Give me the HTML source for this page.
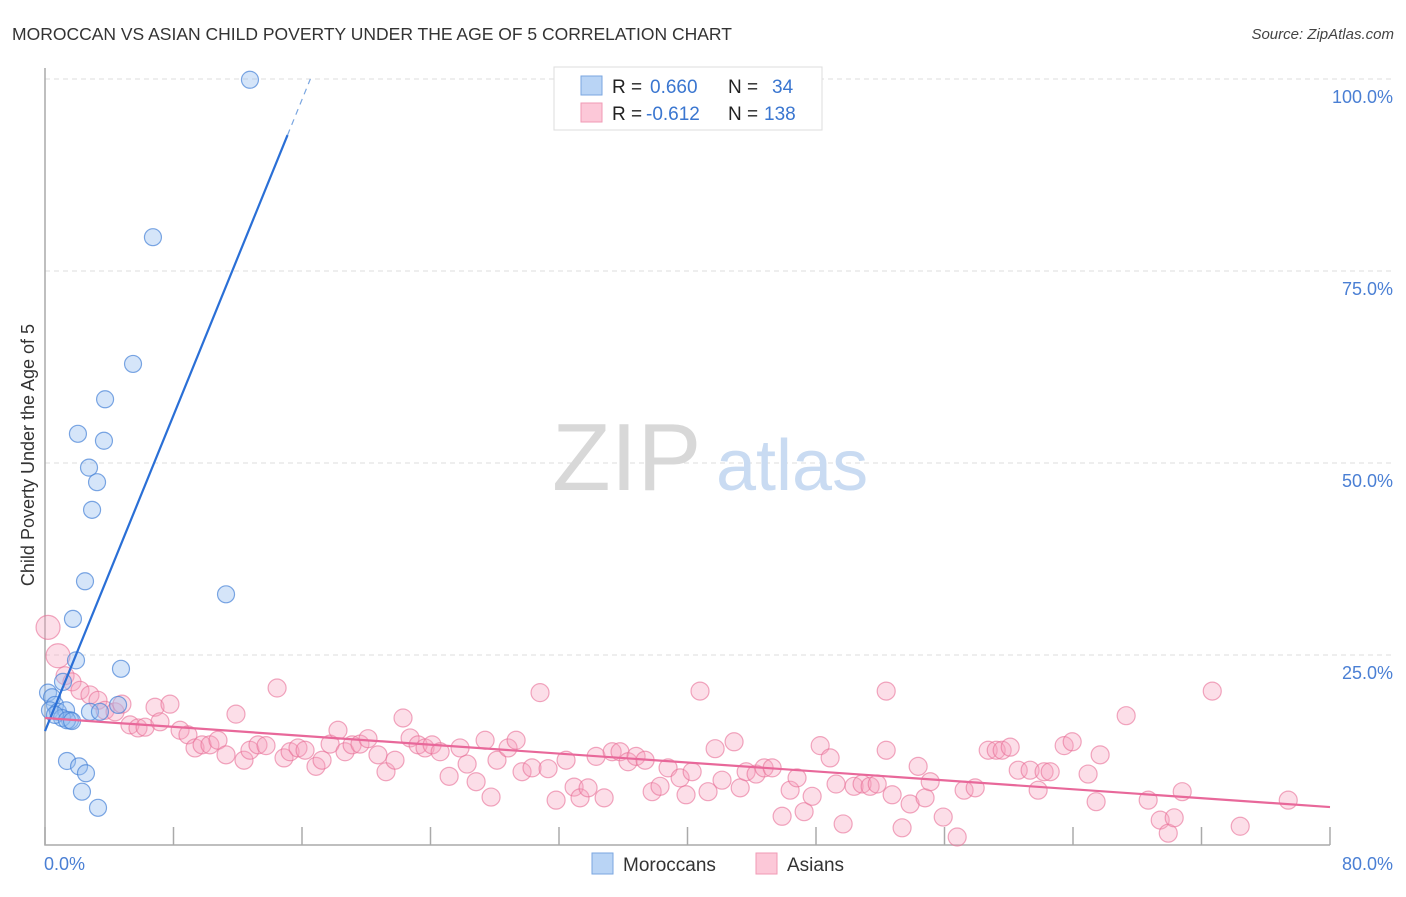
<!DOCTYPE html>
<html><head><meta charset="utf-8"><style>
body{margin:0;background:#fff;font-family:"Liberation Sans",sans-serif;}
svg text{font-family:"Liberation Sans",sans-serif;}
</style></head><body>
<svg id="chart" width="1406" height="892" viewBox="0 0 1406 892" xmlns="http://www.w3.org/2000/svg">
<text x="12" y="40" font-size="17.5" fill="#333">MOROCCAN VS ASIAN CHILD POVERTY UNDER THE AGE OF 5 CORRELATION CHART</text>
<text x="1394" y="39" font-size="15" fill="#444" text-anchor="end" font-style="italic">Source: ZipAtlas.com</text>
<g id="grid"></g>
<g>
<text x="552" y="490" font-size="96" fill="#d8d8d8" font-family="Liberation Serif,serif">ZIP</text>
<text x="716" y="490" font-size="72" fill="#c9dbf2">atlas</text>
</g>
<text transform="translate(34,455) rotate(-90)" font-size="18" fill="#333" text-anchor="middle">Child Poverty Under the Age of 5</text>
<g id="points"></g>
<g id="lines"></g>
<g>
<rect x="554" y="67" width="268" height="63" fill="#fff" stroke="#ddd"/>
<rect x="581" y="76" width="21" height="19" fill="#b9d4f5" stroke="#7aa6e0"/>
<rect x="581" y="103" width="21" height="19" fill="#fcc8d8" stroke="#f09ab5"/>
<text x="612" y="93" font-size="19" fill="#222">R =</text>
<text x="650" y="93" font-size="19" fill="#3a76d0">0.660</text>
<text x="728" y="93" font-size="19" fill="#222">N =</text>
<text x="772" y="93" font-size="19" fill="#3a76d0">34</text>
<text x="612" y="120" font-size="19" fill="#222">R =</text>
<text x="646" y="120" font-size="19" fill="#3a76d0">-0.612</text>
<text x="728" y="120" font-size="19" fill="#222">N =</text>
<text x="764" y="120" font-size="19" fill="#3a76d0">138</text>
</g>
<g>
<rect x="592" y="853" width="21" height="21" fill="#b9d4f5" stroke="#7aa6e0"/>
<text x="623" y="871" font-size="19" fill="#333">Moroccans</text>
<rect x="756" y="853" width="21" height="21" fill="#fcc8d8" stroke="#f09ab5"/>
<text x="787" y="871" font-size="19" fill="#333">Asians</text>
</g>
</svg>
<script>
const blueX=[12.76,6.72,5.48,3.74,2.05,3.67,2.74,3.24,2.93,2.49,11.27,1.74,1.93,4.73,1.12,0.19,0.44,0.62,0.31,0.81,1.31,4.55,2.80,3.42,1.56,1.06,0.62,1.37,1.68,1.37,2.12,2.55,2.30,3.30];
const blueY=[99.9,79.4,62.9,58.3,53.8,52.9,49.4,47.5,43.9,34.6,32.9,29.7,24.3,23.2,21.5,20.1,19.5,18.5,17.8,17.6,17.8,18.5,17.6,17.6,16.5,16.8,17.2,16.5,16.4,11.2,10.5,9.6,7.2,5.1];
const pinkX=[0.19,0.81,1.25,1.68,2.18,2.80,3.30,3.74,4.36,4.79,5.29,5.79,6.23,6.85,7.16,7.78,8.41,8.90,9.34,9.78,10.27,10.77,11.27,11.89,12.39,12.76,13.26,13.76,14.45,14.88,15.26,15.75,16.19,16.87,17.25,17.75,18.24,18.68,19.12,19.61,20.11,20.73,21.23,21.79,22.29,22.73,23.23,23.66,24.10,24.60,25.16,25.84,26.28,26.84,27.40,27.77,28.14,28.83,29.33,29.70,30.32,30.82,31.32,31.82,32.44,32.94,33.31,33.81,34.31,34.81,35.31,35.80,36.30,36.80,37.36,37.80,38.29,38.79,39.54,39.91,40.29,40.78,41.28,41.72,42.15,42.90,43.28,43.65,44.27,44.77,45.27,45.89,46.39,46.82,47.26,47.76,48.26,48.88,49.25,49.69,50.37,50.87,51.37,51.81,52.37,52.37,52.74,53.36,53.86,54.36,54.79,55.11,55.92,56.79,57.22,57.91,58.72,59.22,59.59,60.09,60.59,61.33,61.83,62.20,62.58,63.45,63.95,64.94,65.69,65.44,67.31,68.68,69.43,69.93,70.30,70.80,72.67,74.41,77.40];
const pinkY=[28.6,24.9,22.3,21.5,20.4,19.8,19.1,17.8,17.6,18.6,15.9,15.5,15.6,18.2,16.3,18.6,15.2,14.6,12.9,13.3,13.3,13.9,12.0,17.3,11.3,12.6,13.3,13.2,20.7,11.6,12.4,12.9,12.6,10.5,11.3,13.4,15.2,12.4,13.3,13.4,14.1,12.0,9.8,11.3,16.8,14.2,13.3,12.9,13.3,12.4,9.2,12.9,10.8,8.5,13.9,6.5,11.3,12.9,13.9,9.8,10.3,20.1,10.2,6.1,11.3,7.8,6.4,7.7,11.8,6.4,12.4,12.4,11.1,11.8,11.3,7.2,7.9,10.3,9.0,6.8,9.8,20.3,7.2,12.8,8.7,13.7,7.7,9.8,9.5,10.3,10.3,4.0,7.4,9.0,4.6,6.6,13.2,11.6,8.2,3.0,7.9,8.2,7.9,8.2,20.3,12.6,6.8,2.5,5.6,10.5,6.4,8.5,3.9,1.3,7.4,7.7,12.6,12.6,12.6,13.0,10.0,10.0,7.4,9.8,9.8,13.2,13.7,9.5,12.0,5.9,17.1,6.1,3.5,1.8,3.8,7.2,20.3,2.7,6.1];
const yTicks=[100,75,50,25];
const yTickLabels=["100.0%","75.0%","50.0%","25.0%"];
const xTicks=[0,8,16,24,32,40,48,56,64,72,80];
const blueLine=[0,15.1,15.1,92.7];
const pinkLine=[0,16.8,80,5.2];

const NS="http://www.w3.org/2000/svg";
const L=45,R=1330,T=79,B=847;
const xs=v=>L+v/80*(R-L);
const ys=v=>B-v/100*(B-T);
function mk(tag,attrs,parent){const e=document.createElementNS(NS,tag);for(const k in attrs)e.setAttribute(k,attrs[k]);parent.appendChild(e);return e;}
const grid=document.getElementById('grid');
yTicks.forEach((t,i)=>{
  const g=mk('line',{x1:L,x2:1394,y1:ys(t),y2:ys(t),stroke:'#ddd','stroke-dasharray':'5,4'},grid);
  
  
  const tx=mk('text',{x:1393,y:ys(t)+24,'font-size':18,fill:'#4a7fd4','text-anchor':'end'},grid);
  tx.textContent=yTickLabels[i];
  
  
});
const ax=mk('path',{d:`M${L} 68 V845 H${R}`,fill:'none',stroke:'#aaa','stroke-width':1.5},grid);


xTicks.forEach(t=>{
  const l=mk('line',{x1:xs(t),x2:xs(t),y1:827,y2:845,stroke:'#aaa','stroke-width':1.5},grid);
  
  
});
const xl0=mk('text',{x:44,y:870,'font-size':18,fill:'#4a7fd4'},grid);xl0.textContent='0.0%';


const xl1=mk('text',{x:1393,y:870,'font-size':18,fill:'#4a7fd4','text-anchor':'end'},grid);xl1.textContent='80.0%';



const pts=document.getElementById('points');
pinkX.forEach((x,i)=>{
  const r=pinkY[i]>24?12:9;
  const c=mk('circle',{cx:xs(x),cy:ys(pinkY[i]),r:r,fill:'rgba(246,160,190,0.35)',stroke:'rgba(232,110,150,0.6)','stroke-width':1.2},pts);
  
  
});
blueX.forEach((x,i)=>{
  const c=mk('circle',{cx:xs(x),cy:ys(blueY[i]),r:8.5,fill:'rgba(150,190,240,0.4)',stroke:'rgba(70,130,215,0.7)','stroke-width':1.2},pts);
  
  
});
const ln=document.getElementById('lines');
const slope=(blueLine[3]-blueLine[1])/(blueLine[2]-blueLine[0]);
const bl=mk('line',{x1:xs(blueLine[0]),y1:ys(blueLine[1]),x2:xs(blueLine[2]),y2:ys(blueLine[3]),stroke:'#2a6fd6','stroke-width':2.2},ln);


const ex=blueLine[2]+(100-blueLine[3])/slope;
const bd=mk('line',{x1:xs(blueLine[2]),y1:ys(blueLine[3]),x2:xs(ex),y2:ys(100),stroke:'#7aa6e0','stroke-width':1.2,'stroke-dasharray':'6,5'},ln);


const pl=mk('line',{x1:xs(pinkLine[0]),y1:ys(pinkLine[1]),x2:xs(pinkLine[2]),y2:ys(pinkLine[3]),stroke:'#e8689a','stroke-width':2.2},ln);


</script>
</body></html>
